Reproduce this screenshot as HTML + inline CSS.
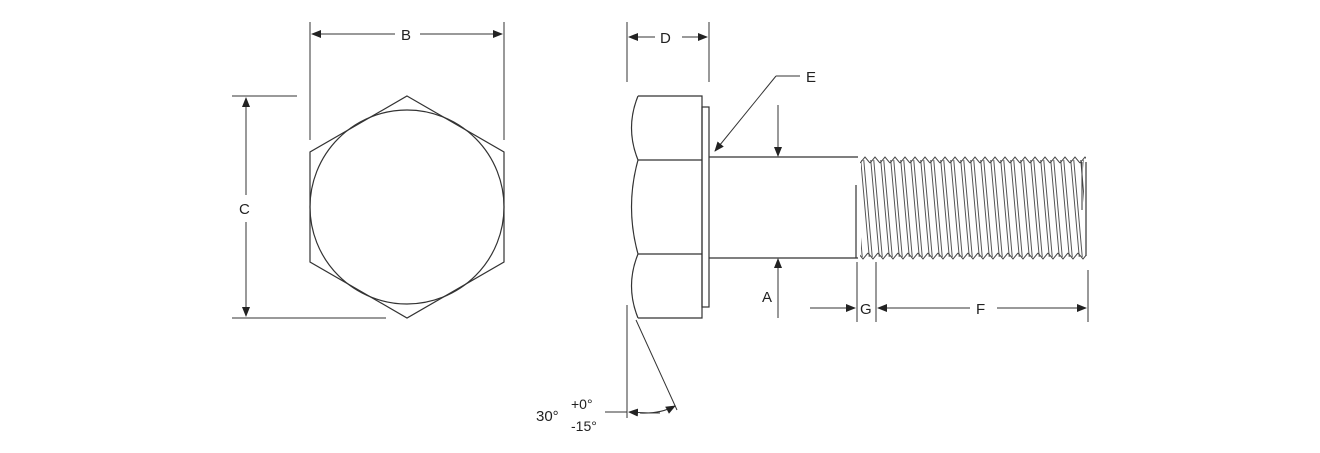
<!DOCTYPE html>
<html><head><meta charset="utf-8"><style>
html,body{margin:0;padding:0;background:#fff;}
svg{display:block;font-family:"Liberation Sans",sans-serif;}
</style></head><body>
<svg width="1320" height="453" viewBox="0 0 1320 453" xmlns="http://www.w3.org/2000/svg">
<defs>
<marker id="ar" markerWidth="10" markerHeight="8" refX="9" refY="4" orient="auto" markerUnits="userSpaceOnUse">
<path d="M0,0 L10,4 L0,8 z" fill="#222"/></marker>
<pattern id="th" patternUnits="userSpaceOnUse" width="10" height="200" patternTransform="translate(860,157) skewX(5)">
<line x1="0.5" y1="0" x2="0.5" y2="200" stroke="#555" stroke-width="1"/>
<line x1="3.5" y1="0" x2="3.5" y2="200" stroke="#555" stroke-width="1"/>
</pattern>
<pattern id="zt" patternUnits="userSpaceOnUse" width="10" height="8" patternTransform="translate(860,156)">
<path d="M0,7 L5,1 L10,7" fill="none" stroke="#444" stroke-width="1"/>
</pattern>
<pattern id="zb" patternUnits="userSpaceOnUse" width="10" height="8" patternTransform="translate(868,252)">
<path d="M0,1 L5,7 L10,1" fill="none" stroke="#444" stroke-width="1"/>
</pattern>
</defs>
<g stroke="#333" stroke-width="1.2" fill="none">
<!-- hex view -->
<polygon points="407,96 504,152 504,262 407,318 310,262 310,152" fill="#fff"/>
<circle cx="407" cy="207" r="97"/>
<!-- B -->
<line x1="310" y1="22" x2="310" y2="140" stroke-width="1"/>
<line x1="504" y1="22" x2="504" y2="140" stroke-width="1"/>
<line x1="395" y1="34" x2="312" y2="34" marker-end="url(#ar)" stroke-width="1"/>
<line x1="420" y1="34" x2="502" y2="34" marker-end="url(#ar)" stroke-width="1"/>
<!-- C -->
<line x1="232" y1="96" x2="297" y2="96" stroke-width="1"/>
<line x1="232" y1="318" x2="386" y2="318" stroke-width="1"/>
<line x1="246" y1="195" x2="246" y2="98" marker-end="url(#ar)" stroke-width="1"/>
<line x1="246" y1="222" x2="246" y2="316" marker-end="url(#ar)" stroke-width="1"/>
<!-- head side -->
<path d="M638,96 L702,96 L702,318 L638,318 M638,96 Q625,128 638,160 Q625,207 638,254 Q625,286 638,318"/>
<line x1="638" y1="160" x2="702" y2="160"/>
<line x1="638" y1="254" x2="702" y2="254"/>
<rect x="702" y="107" width="7" height="200"/>
<!-- shank -->
<path d="M709,157 L858,157 M709,258 L858,258"/>
<line x1="856" y1="185" x2="856" y2="258"/>
</g>
<!-- threads -->
<rect x="861" y="160" width="223" height="97" fill="url(#th)"/>
<rect x="860" y="156" width="226" height="8" fill="url(#zt)"/>
<rect x="860" y="252" width="226" height="8" fill="url(#zb)"/>
<g stroke="#333" stroke-width="1.2" fill="none">
<line x1="1086" y1="162" x2="1086" y2="256"/>
<line x1="1082" y1="162" x2="1082" y2="210" stroke-width="1"/>
<!-- D -->
<line x1="627" y1="22" x2="627" y2="82" stroke-width="1"/>
<line x1="709" y1="22" x2="709" y2="82" stroke-width="1"/>
<line x1="655" y1="37" x2="629" y2="37" marker-end="url(#ar)" stroke-width="1"/>
<line x1="682" y1="37" x2="707" y2="37" marker-end="url(#ar)" stroke-width="1"/>
<!-- E -->
<line x1="800" y1="76" x2="776" y2="76" stroke-width="1"/>
<line x1="776" y1="76" x2="715" y2="151" marker-end="url(#ar)" stroke-width="1"/>
<!-- A -->
<line x1="778" y1="105" x2="778" y2="156" marker-end="url(#ar)" stroke-width="1"/>
<line x1="778" y1="318" x2="778" y2="259" marker-end="url(#ar)" stroke-width="1"/>
<!-- G F -->
<line x1="857" y1="262" x2="857" y2="322" stroke-width="1"/>
<line x1="876" y1="262" x2="876" y2="322" stroke-width="1"/>
<line x1="1088" y1="270" x2="1088" y2="322" stroke-width="1"/>
<line x1="810" y1="308" x2="855" y2="308" marker-end="url(#ar)" stroke-width="1"/>
<line x1="970" y1="308" x2="878" y2="308" marker-end="url(#ar)" stroke-width="1"/>
<line x1="997" y1="308" x2="1086" y2="308" marker-end="url(#ar)" stroke-width="1"/>
<!-- angle -->
<line x1="627" y1="305" x2="627" y2="418" stroke-width="1"/>
<line x1="636" y1="320" x2="677" y2="410" stroke-width="1"/>
<line x1="605" y1="412" x2="627" y2="412" stroke-width="1"/>
<path d="M640,413 Q660,414 675,406" stroke-width="1" marker-end="url(#ar)"/>
<path d="M660,413 Q645,413 629,412" stroke-width="1" marker-end="url(#ar)"/>
</g>
<g fill="#222" font-size="15">
<text x="401" y="40">B</text>
<text x="239" y="214">C</text>
<text x="660" y="43">D</text>
<text x="806" y="82">E</text>
<text x="762" y="302">A</text>
<text x="860" y="314">G</text>
<text x="976" y="314">F</text>
<text x="536" y="421">30°</text>
<text x="571" y="409" font-size="14">+0°</text>
<text x="571" y="431" font-size="14">-15°</text>
</g>
</svg>
</body></html>
